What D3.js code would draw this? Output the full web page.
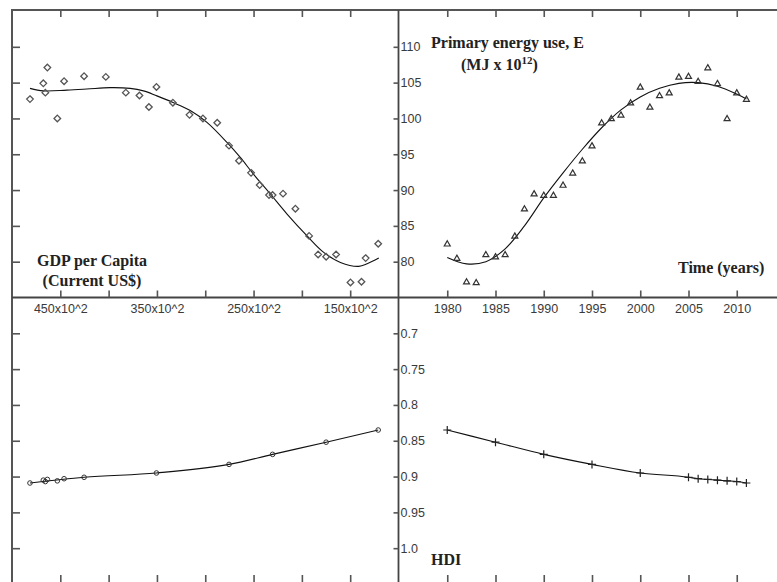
<!DOCTYPE html>
<html><head><meta charset="utf-8">
<script src="https://cdn.jsdelivr.net/npm/d3@7"></script>
<style>
html,body{margin:0;padding:0;background:#fff;}
svg{display:block;}
.tl{font-family:"Liberation Sans",Arial,sans-serif;font-size:12.5px;fill:#3a3a3a;}
.ann{font-family:"Liberation Serif","Times New Roman",serif;font-size:16px;font-weight:bold;fill:#222;}
</style></head>
<body>
<svg id="c" width="777" height="582"></svg>
<script>
// ---- data ----
const years = [1980,1981,1982,1983,1984,1985,1986,1987,1988,1989,1990,1991,1992,1993,1994,1995,1996,1997,1998,1999,2000,2001,2002,2003,2004,2005,2006,2007,2008,2009,2010,2011];
const energy = [82.5,80.5,77.2,77.1,81.0,80.7,81.0,83.6,87.4,89.5,89.3,89.3,90.7,92.4,94.1,96.2,99.4,100.0,100.5,102.2,104.4,101.6,103.2,103.6,105.8,105.9,105.2,107.1,104.9,100.0,103.6,102.7];
const gdp = [12100,13400,13830,14970,16460,17490,18320,19250,20670,21950,23030,23400,24370,25260,26510,27540,28760,30240,31630,33350,35050,35830,36810,38220,40290,42540,44610,46340,46760,45310,46550,48140];

const hdiYears = [1980,1985,1990,1995,2000,2005,2006,2007,2008,2009,2010,2011];
const hdi = [0.835,0.852,0.869,0.883,0.895,0.901,0.903,0.904,0.905,0.906,0.907,0.909];

// fitted curve: energy vs time
const eFitYears = [1980,1982,1984,1986,1988,1990,1992,1994,1996,1998,2000,2002,2004,2006,2008,2010,2011];
const eFitVals  = [80.6,79.7,80.0,81.8,85.0,88.9,92.4,95.7,98.7,101.2,103.0,104.2,104.9,105.0,104.5,103.4,102.7];

// fitted curve: energy vs GDP
const gFitGdp = [48135,46756,44332,42259,39845,37772,36394,35005,33285,31554,29824,27751,26373,24995,23264,21534,19461,17741,16010,14114,13244,12041];
const gFitE   = [104.2,103.85,103.95,104.1,104.3,104.2,103.85,103.15,102.2,101.1,99.45,96.65,94.55,92.2,89.45,86.65,83.6,81.3,79.9,79.35,79.7,80.5];

// HDI vs GDP line
const hFitGdp = [48140,42540,35050,27540,23030,17490,12100];
const hFitVal = [0.909,0.901,0.895,0.883,0.869,0.852,0.835];

// ticks
const gdpTicks = [15000,20000,25000,30000,35000,40000,45000];
const gdpLabels = [45000,35000,25000,15000];
const yearTicks = [1980,1985,1990,1995,2000,2005,2010];
const eTicks = [80,85,90,95,100,105,110];
const hdiTicks = [0.7,0.75,0.8,0.85,0.9,0.95,1.0];

// ---- layout ----
const L = 12, T = 10, R = 785, B = 584, CX = 398.5, CY = 297.5;
const svg = d3.select("#c");

const xG = d3.scaleLinear().domain([50000,10000]).range([L, CX]);
const xY = d3.scaleLinear().domain([1975,2015]).range([CX+0.5, R]);
const yE = d3.scaleLinear().domain([75,115]).range([CY, T+1]);
const yH = d3.scaleLinear().domain([0.65,1.05]).range([CY, B]);

const tickCol = "#555";
function styleTicks(g){
  g.select(".domain").remove();
  g.selectAll(".tick line").attr("stroke", tickCol).attr("stroke-width", 1.6);
  g.selectAll(".tick text").attr("class","tl");
}

// frame
svg.append("rect").attr("x",L).attr("y",T).attr("width",R-L).attr("height",B-T)
  .attr("fill","none").attr("stroke","#555").attr("stroke-width",2);
// central axes
svg.append("line").attr("x1",CX).attr("x2",CX).attr("y1",T).attr("y2",B).attr("stroke","#444").attr("stroke-width",1.8);
svg.append("line").attr("x1",L).attr("x2",R).attr("y1",CY).attr("y2",CY).attr("stroke","#444").attr("stroke-width",1.8);

// top frame ticks (down)
svg.append("g").attr("transform",`translate(0,${T})`).call(d3.axisBottom(xG).tickValues(gdpTicks).tickSize(7).tickFormat("")).call(styleTicks);
svg.append("g").attr("transform",`translate(0,${T})`).call(d3.axisBottom(xY).tickValues(yearTicks).tickSize(7).tickFormat("")).call(styleTicks);
// centre horizontal ticks (up)
svg.append("g").attr("transform",`translate(0,${CY})`).call(d3.axisTop(xG).tickValues(gdpTicks).tickSize(7).tickFormat("")).call(styleTicks);
svg.append("g").attr("transform",`translate(0,${CY})`).call(d3.axisTop(xY).tickValues(yearTicks).tickSize(7).tickFormat("")).call(styleTicks);
// centre horizontal labels (below)
svg.append("g").attr("transform",`translate(0,${CY})`).call(d3.axisBottom(xG).tickValues(gdpLabels).tickSize(0).tickPadding(7).tickFormat(d => (d/100) + "x10^2")).call(styleTicks);
svg.append("g").attr("transform",`translate(0,${CY})`).call(d3.axisBottom(xY).tickValues(yearTicks).tickSize(0).tickPadding(7).tickFormat(d3.format("d"))).call(styleTicks);
// bottom frame ticks (up)
svg.append("g").attr("transform",`translate(0,${B})`).call(d3.axisTop(xG).tickValues(gdpTicks).tickSize(9).tickFormat("")).call(styleTicks);
svg.append("g").attr("transform",`translate(0,${B})`).call(d3.axisTop(xY).tickValues(yearTicks).tickSize(9).tickFormat("")).call(styleTicks);
// left frame ticks (right)
svg.append("g").attr("transform",`translate(${L},0)`).call(d3.axisRight(yE).tickValues(eTicks).tickSize(8).tickFormat("")).call(styleTicks);
svg.append("g").attr("transform",`translate(${L},0)`).call(d3.axisRight(yH).tickValues(hdiTicks).tickSize(8).tickFormat("")).call(styleTicks);
// centre vertical ticks (left) + labels (right)
svg.append("g").attr("transform",`translate(${CX},0)`).call(d3.axisLeft(yE).tickValues(eTicks).tickSize(5).tickFormat("")).call(styleTicks);
svg.append("g").attr("transform",`translate(${CX},0)`).call(d3.axisLeft(yH).tickValues(hdiTicks).tickSize(5).tickFormat("")).call(styleTicks);
svg.append("g").attr("transform",`translate(${CX},0)`).call(d3.axisRight(yE).tickValues(eTicks).tickSize(0).tickPadding(2).tickFormat(d3.format("d"))).call(styleTicks);
svg.append("g").attr("transform",`translate(${CX},0)`).call(d3.axisRight(yH).tickValues(hdiTicks).tickSize(0).tickPadding(2).tickFormat(d => d === 1 ? "1.0" : String(d))).call(styleTicks);

// ---- curves ----
const lineCol = "#111";
const eFit = eFitYears.map((y,i)=>[xY(y), yE(eFitVals[i])]);
svg.append("path").attr("d", d3.line().curve(d3.curveCatmullRom)(eFit)).attr("fill","none").attr("stroke",lineCol).attr("stroke-width",1.1);
const gFit = gFitGdp.map((g,i)=>[xG(g), yE(gFitE[i])]).sort((a,b)=>a[0]-b[0]);
svg.append("path").attr("d", d3.line().curve(d3.curveCatmullRom)(gFit)).attr("fill","none").attr("stroke",lineCol).attr("stroke-width",1.1);
const hFit = hFitGdp.map((g,i)=>[xG(g), yH(hFitVal[i])]).sort((a,b)=>a[0]-b[0]);
svg.append("path").attr("d", d3.line().curve(d3.curveMonotoneX)(hFit)).attr("fill","none").attr("stroke",lineCol).attr("stroke-width",1.1);
const hT = hdiYears.map((y,i)=>[xY(y), yH(hdi[i])]);
svg.append("path").attr("d", d3.line().curve(d3.curveMonotoneX)(hT)).attr("fill","none").attr("stroke",lineCol).attr("stroke-width",1.1);

// ---- markers ----
const mk = "#555";
// diamonds: energy vs GDP
svg.append("g").selectAll("path").data(years).join("path")
  .attr("transform",(d,i)=>`translate(${xG(gdp[i])},${yE(energy[i])})`)
  .attr("d","M0,-3.3L3.3,0L0,3.3L-3.3,0Z").attr("fill","none").attr("stroke",mk).attr("stroke-width",1.3);
// triangles: energy vs time
svg.append("g").selectAll("path").data(years).join("path")
  .attr("transform",(d,i)=>`translate(${xY(d)},${yE(energy[i])})`)
  .attr("d","M0,-3L3,2.2L-3,2.2Z").attr("fill","none").attr("stroke","#333").attr("stroke-width",1.2);
// circles: HDI vs GDP
const gdpByYear = new Map(years.map((y,i)=>[y,gdp[i]]));
svg.append("g").selectAll("circle").data(hdiYears).join("circle")
  .attr("cx",d=>xG(gdpByYear.get(d))).attr("cy",(d,i)=>yH(hdi[i])).attr("r",2.3)
  .attr("fill","none").attr("stroke","#333").attr("stroke-width",1);
// plus: HDI vs time
svg.append("g").selectAll("path").data(hdiYears).join("path")
  .attr("transform",(d,i)=>`translate(${xY(d)},${yH(hdi[i])})`)
  .attr("d","M-4,0H4M0,-4V4").attr("fill","none").attr("stroke","#222").attr("stroke-width",1.2);

// ---- annotations ----
svg.append("text").attr("class","ann").attr("x",92).attr("y",266).attr("text-anchor","middle").text("GDP per Capita");
svg.append("text").attr("class","ann").attr("x",92).attr("y",285.5).attr("text-anchor","middle").text("(Current US$)");
svg.append("text").attr("class","ann").attr("x",431).attr("y",48).text("Primary energy use, E");
const mj = svg.append("text").attr("class","ann").attr("x",461).attr("y",70);
mj.append("tspan").text("(MJ x 10");
mj.append("tspan").attr("dy",-6).attr("font-size","11px").text("12");
mj.append("tspan").attr("dy",6).text(")");
svg.append("text").attr("class","ann").attr("x",678).attr("y",273).text("Time (years)");
svg.append("text").attr("class","ann").attr("x",431).attr("y",565).text("HDI");
</script>
</body></html>
